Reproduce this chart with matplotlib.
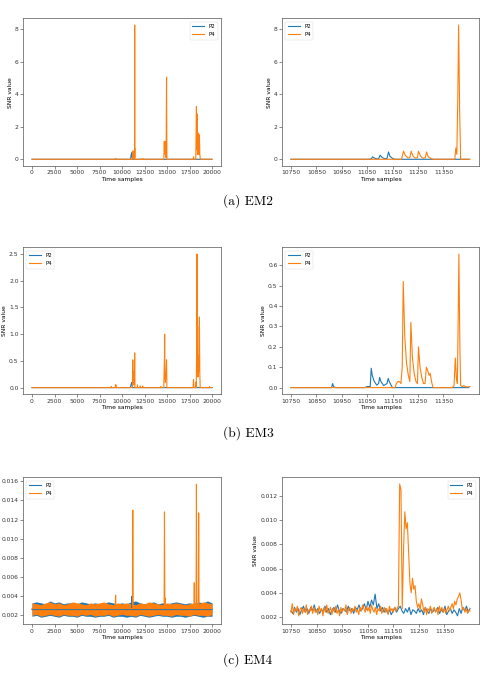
import matplotlib
matplotlib.use('Agg')
import matplotlib.pyplot as plt
import numpy as np

BLUE = '#1f77b4'
ORANGE = '#ff7f0e'

# ---------------- EM2 ----------------
# full run (0 - 20000 samples), only the points where something happens
em2_full_p2_t = [0, 10950, 11000, 11050, 11080, 11100, 11135, 11160, 20000]
em2_full_p2 = [0, 0, 0.2, 0.35, 0.15, 0.25, 0.45, 0, 0]
em2_full_p4_t = [0, 9250, 9290, 9340,
                 11150, 11190, 11210, 11225, 11240, 11255, 11270, 11285, 11310,
                 11390, 11400, 11405, 11411, 11420,
                 12280, 12300, 12320,
                 14650, 14700, 14730, 14760, 14800, 14850, 14900, 14950, 14990,
                 17900, 17950, 17990,
                 18200, 18270, 18300, 18330, 18380, 18450, 18500, 18540, 18600, 18650, 18700,
                 20000]
em2_full_p4 = [0, 0, 0.06, 0,
               0, 0.5, 0.1, 0.5, 0.1, 0.5, 0.1, 0.45, 0,
               0, 0.7, 0.1, 8.25, 0,
               0, 0.04, 0,
               0, 1.1, 0.4, 1.1, 0.3, 0.3, 0.1, 5.05, 0,
               0, 0.15, 0,
               0, 3.25, 0.6, 2.8, 0.3, 0.4, 1.6, 0.3, 1.5, 0.3, 0,
               0]
# zoom window (10750 - 11450 samples)
em2_zoom_p2_t = [10750, 11060, 11068, 11071, 11080, 11090, 11095, 11101, 11110, 11120,
                 11128, 11134, 11140, 11150, 11160, 11450]
em2_zoom_p2 = [0, 0, 0.05, 0.15, 0.06, 0.02, 0.03, 0.25, 0.1, 0.03,
               0.05, 0.45, 0.18, 0.05, 0, 0]
em2_zoom_p4_t = [10750, 11185, 11190, 11193, 11200, 11210, 11218, 11223, 11230, 11240,
                 11248, 11252, 11260, 11270, 11279, 11284, 11290, 11295, 11300, 11310,
                 11395, 11399, 11403, 11407, 11410, 11414, 11418, 11455]
em2_zoom_p4 = [0, 0, 0.3, 0.5, 0.25, 0.08, 0.1, 0.5, 0.2, 0.07,
               0.1, 0.5, 0.2, 0.06, 0.1, 0.45, 0.15, 0.12, 0.05, 0,
               0, 0.7, 0.3, 4.0, 8.25, 3.0, 0, 0]

# ---------------- EM3 ----------------
em3_full_p2_t = [0, 10900, 10950, 11070, 11100, 11140, 11160, 20000]
em3_full_p2 = [0, 0, 0.02, 0.095, 0.05, 0.045, 0, 0]
em3_full_p4_t = [0, 8780, 8800, 8820,
                 9250, 9280, 9300, 9320, 9360,
                 11150, 11180, 11200, 11230, 11260, 11290, 11330, 11380, 11410, 11440,
                 11700, 11720, 11740,
                 12000, 12020, 12040,
                 12280, 12300, 12320,
                 14300, 14320, 14340,
                 14640, 14680, 14720, 14740, 14770, 14820, 14900, 14950, 14990,
                 17900, 17940, 17990,
                 18150, 18200, 18250, 18300, 18330, 18360, 18400, 18440, 18500, 18560, 18600, 18640, 18690,
                 19700, 19720, 19740,
                 20000]
em3_full_p4 = [0, 0, 0.02, 0,
               0, 0.05, 0.03, 0.05, 0,
               0, 0.3, 0.52, 0.1, 0.3, 0.05, 0.1, 0.15, 0.65, 0,
               0, 0.05, 0,
               0, 0.03, 0,
               0, 0.03, 0,
               0, 0.02, 0,
               0, 0.3, 0.6, 1.0, 0.2, 0.1, 0.3, 0.52, 0,
               0, 0.15, 0,
               0, 0.1, 0, 0.8, 2.5, 0.3, 1.15, 0.2, 0.6, 0.3, 1.32, 0.3, 0,
               0, 0.02, 0,
               0]
em3_zoom_p2_t = [10750, 10910, 10914, 10918, 10925, 11040, 11050, 11062, 11066, 11070,
                 11078, 11088, 11095, 11099, 11104, 11115, 11128, 11133, 11137, 11145,
                 11150, 11450]
em3_zoom_p2 = [0, 0, 0.02, 0.005, 0, 0, 0.005, 0.005, 0.095, 0.06,
               0.03, 0.012, 0.02, 0.05, 0.03, 0.01, 0.02, 0.045, 0.03, 0.01,
               0, 0]
em3_zoom_p4_t = [10750, 11160, 11165, 11172, 11178, 11183, 11188, 11192, 11198, 11205,
                 11212, 11218, 11222, 11228, 11235, 11242, 11248, 11252, 11258, 11265,
                 11272, 11278, 11283, 11288, 11294, 11298, 11305, 11310, 11385, 11392,
                 11397, 11401, 11405, 11408, 11411, 11415, 11418, 11425, 11430, 11440,
                 11455]
em3_zoom_p4 = [0, 0, 0.02, 0.03, 0.028, 0.02, 0.1, 0.52, 0.25, 0.12,
               0.06, 0.03, 0.32, 0.15, 0.07, 0.03, 0.02, 0.2, 0.1, 0.05,
               0.02, 0.02, 0.1, 0.085, 0.06, 0.07, 0.02, 0, 0, 0.01,
               0.145, 0.05, 0.02, 0.3, 0.655, 0.2, 0.01, 0.005, 0.01, 0.003,
               0.005]

# ---------------- EM4 ----------------  (values in 1e-4)
# full run: noise band envelope every 500 samples, plus the spikes on top
em4_band_t = np.arange(0, 20001, 500)
em4_p2_hi = [33, 34, 33, 32, 35, 33, 34, 32, 33, 33, 32, 34, 33, 32, 33, 32, 33, 34, 33, 32, 33,
             32, 34, 35, 33, 32, 33, 34, 32, 33, 32, 33, 34, 33, 32, 33, 32, 34, 33, 35, 33]
em4_p2_lo = [19, 20, 18, 19, 20, 19, 18, 20, 19, 19, 18, 20, 19, 19, 18, 19, 19, 20, 18, 19, 19,
             18, 19, 18, 20, 19, 18, 19, 20, 19, 19, 18, 19, 19, 18, 19, 20, 19, 18, 19, 19]
em4_p4_hi = [33, 32, 31, 33, 34, 32, 33, 31, 32, 34, 33, 32, 31, 33, 32, 33, 34, 32, 31, 33, 32,
             33, 32, 31, 33, 32, 34, 33, 32, 31, 33, 32, 33, 32, 31, 32, 33, 32, 34, 33, 32]
em4_p4_lo = [20, 21, 19, 20, 21, 20, 19, 21, 20, 20, 19, 21, 20, 21, 19, 20, 20, 21, 19, 20, 21,
             20, 20, 19, 21, 20, 19, 20, 21, 20, 20, 19, 21, 20, 20, 19, 21, 20, 20, 19, 21]
em4_full_p2_t = [0, 11060, 11100, 11140, 20000]
em4_full_p2 = [26, 26, 40, 26, 26]
em4_full_p4_t = [0, 9250, 9290, 9330, 11160, 11200, 11240, 14680, 14720, 14760, 14790, 14830,
                 17990, 18030, 18070, 18230, 18270, 18310, 18480, 18520, 18560, 20000]
em4_full_p4 = [27, 27, 41, 27, 27, 130, 27, 27, 128, 30, 38, 27,
               27, 54, 27, 27, 157, 27, 27, 127, 27, 27]
# zoom window, P2 every 7 samples, P4 every 5 samples
em4_zoom_p2_t = np.arange(10750, 11451, 7)
em4_zoom_p2 = [25, 23, 28, 24, 27, 22, 26, 29, 24, 27, 23,
               28, 25, 30, 24, 27, 23, 26, 25, 29, 24,
               27, 22, 26, 28, 24, 30, 25, 23, 27, 26,
               24, 29, 25, 27, 23, 28, 26, 30, 25, 27,
               31, 26, 33, 28, 34, 30, 39, 27, 31, 25,
               28, 24, 27, 23, 26, 22, 25, 28, 24, 27,
               29, 25, 23, 27, 24, 28, 22, 26, 25, 23,
               27, 24, 26, 22, 28, 25, 23, 27, 24, 26,
               25, 28, 23, 26, 24, 29, 22, 25, 27, 23,
               26, 24, 21, 27, 23, 28, 25, 29, 24, 27]
em4_zoom_p4_t = np.arange(10750, 11451, 5)
em4_zoom_p4 = [24, 31, 22, 27, 25, 29, 21, 26, 28, 23,
               27, 24, 30, 22, 26, 25, 29, 23, 28, 24,
               26, 22, 29, 25, 27, 21, 28, 24, 30, 23,
               25, 28, 22, 27, 24, 29, 23, 26, 21, 28,
               24, 27, 25, 30, 22, 26, 28, 23, 27, 25,
               29, 24, 26, 22, 28, 25, 30, 27, 24, 29,
               25, 28, 23, 30, 26, 24, 28, 22, 27, 25,
               29, 23, 26, 28, 24, 27, 22, 29, 25, 27,
               24, 28, 25, 27, 29, 130, 125, 27, 75, 107,
               93, 98, 72, 48, 40, 52, 43, 46, 33, 28,
               31, 26, 35, 30, 24, 28, 22, 27, 25, 29,
               23, 26, 28, 24, 27, 22, 29, 25, 28, 24,
               27, 23, 26, 29, 25, 28, 31, 27, 33, 30,
               35, 37, 40, 34, 26, 28, 24, 27, 23, 26, 25]

full_ticks = np.arange(0, 20001, 2500)
zoom_ticks = np.arange(10750, 11400, 100)

FS = 4.3
LW = 0.8

W, H = 483, 673


def make_ax(x0, y0, x1, y1):
    # pixel box -> figure fraction
    return fig.add_axes([x0 / W, 1 - y1 / H, (x1 - x0) / W, (y1 - y0) / H])


def style(ax, xticks, yticks, legend_loc, ylim=None):
    ax.set_xticks(xticks)
    ax.set_yticks(yticks)
    if ylim is not None:
        ax.set_ylim(ylim)
    ax.tick_params(labelsize=FS, length=2, width=0.4, pad=1.2, colors='#333333')
    for s in ax.spines.values():
        s.set_linewidth(0.5)
        s.set_color('#555555')
    ax.set_xlabel('Time samples', fontsize=FS, labelpad=1.2)
    ax.set_ylabel('SNR value', fontsize=FS, labelpad=1.5)
    leg = ax.legend(loc=legend_loc, fontsize=FS * 0.9, handlelength=2.2,
                    borderpad=0.5, labelspacing=0.5, handletextpad=0.8, borderaxespad=0.6)
    leg.get_frame().set_linewidth(0.3)


fig = plt.figure(figsize=(W / 100, H / 100), dpi=100)

L = (23, 221)
R = (282, 479)
rows = [(18.3, 166), (247.3, 394.3), (477.3, 624.3)]

# EM2
ax = make_ax(L[0], rows[0][0], L[1], rows[0][1])
ax.plot(em2_full_p2_t, em2_full_p2, color=BLUE, lw=LW, label='P2')
ax.plot(em2_full_p4_t, em2_full_p4, color=ORANGE, lw=LW, label='P4')
style(ax, full_ticks, np.arange(0, 9, 2), 'upper right')

ax = make_ax(R[0], rows[0][0], R[1], rows[0][1])
ax.plot(em2_zoom_p2_t, em2_zoom_p2, color=BLUE, lw=LW, label='P2')
ax.plot(em2_zoom_p4_t, em2_zoom_p4, color=ORANGE, lw=LW, label='P4')
style(ax, zoom_ticks, np.arange(0, 9, 2), 'upper left')

# EM3
ax = make_ax(L[0], rows[1][0], L[1], rows[1][1])
ax.plot(em3_full_p2_t, em3_full_p2, color=BLUE, lw=LW, label='P2')
ax.plot(em3_full_p4_t, em3_full_p4, color=ORANGE, lw=LW, label='P4')
style(ax, full_ticks, np.arange(0, 2.6, 0.5), 'upper left')

ax = make_ax(R[0], rows[1][0], R[1], rows[1][1])
ax.plot(em3_zoom_p2_t, em3_zoom_p2, color=BLUE, lw=LW, label='P2')
ax.plot(em3_zoom_p4_t, em3_zoom_p4, color=ORANGE, lw=LW, label='P4')
style(ax, zoom_ticks, np.arange(0, 0.61, 0.1), 'upper left')

# EM4
sc = 1e-4
ax = make_ax(L[0], rows[2][0], L[1], rows[2][1])
ax.fill_between(em4_band_t, np.array(em4_p2_lo) * sc, np.array(em4_p2_hi) * sc, color=BLUE, lw=0)
ax.plot(em4_full_p2_t, np.array(em4_full_p2) * sc, color=BLUE, lw=LW, label='P2')
ax.fill_between(em4_band_t, np.array(em4_p4_lo) * sc, np.array(em4_p4_hi) * sc, color=ORANGE, lw=0)
ax.plot(em4_full_p4_t, np.array(em4_full_p4) * sc, color=ORANGE, lw=LW, label='P4')
style(ax, full_ticks, np.arange(0.002, 0.0161, 0.002), 'upper left', ylim=(0.00106, 0.01642))
ax.set_xlim(-1000, 21000)

ax = make_ax(R[0], rows[2][0], R[1], rows[2][1])
ax.plot(em4_zoom_p2_t, np.array(em4_zoom_p2) * sc, color=BLUE, lw=LW, label='P2')
ax.plot(em4_zoom_p4_t, np.array(em4_zoom_p4) * sc, color=ORANGE, lw=LW, label='P4')
style(ax, zoom_ticks, np.arange(0.002, 0.0121, 0.002), 'upper right', ylim=(0.0014, 0.01355))

# sub captions
for label, y in [('(a) EM2', 201), ('(b) EM3', 433), ('(c) EM4', 660)]:
    fig.text(248 / W, 1 - y / H, label, ha='center', va='center', family='cmr10', fontsize=9.7)

fig.savefig('out.png', dpi=100)
